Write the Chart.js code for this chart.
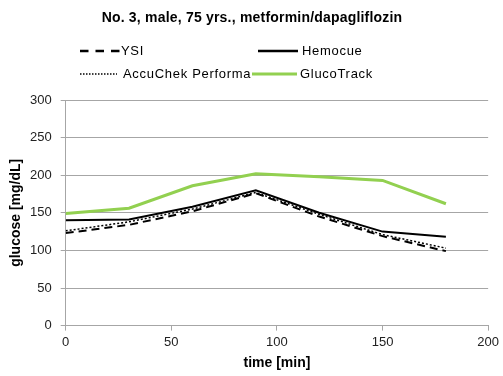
<!DOCTYPE html>
<html>
<head>
<meta charset="utf-8">
<script src="https://cdn.jsdelivr.net/npm/chart.js@4/dist/chart.umd.min.js"></script>
<style>
html,body{margin:0;padding:0;background:#fff;}
#wrap{width:503px;height:376px;position:relative;}
</style>
</head>
<body>
<div id="wrap"><canvas id="c" width="503" height="376"></canvas></div>
<script>
const titleText = "No. 3, male, 75 yrs., metformin/dapagliflozin";
const yTitle = "glucose [mg/dL]";
const xTitle = "time [min]";
const times = [0, 30, 60, 90, 120, 150, 180];
const ysi = [123, 134, 152, 176, 145, 119, 99];
const hemocue = [140, 141, 158, 180, 150, 125, 118];
const accuchek = [126, 138, 155, 177, 148, 121, 103];
const glucotrack = [149, 156, 186, 202, 198, 193, 162];
const seriesNames = ["YSI", "Hemocue", "AccuChek Performa", "GlucoTrack"];
const yTicks = [0, 50, 100, 150, 200, 250, 300];
const xTicks = [0, 50, 100, 150, 200];

const pts = (vals) => times.map((t, i) => ({x: t, y: vals[i]}));

const FONT = "'Liberation Sans', Arial, sans-serif";

const legendPlugin = {
  id: 'customLegend',
  afterDraw(chart) {
    const ctx = chart.ctx;
    ctx.save();
    // title
    ctx.font = "bold 14px " + FONT;
    ctx.fillStyle = "#000";
    ctx.textAlign = "center";
    ctx.textBaseline = "middle";
    try { ctx.letterSpacing = "0.2px"; } catch (e) {}
    ctx.fillText(titleText, 252, 18);
    // y axis title
    try { ctx.letterSpacing = "0px"; } catch (e) {}
    ctx.save();
    const ca = chart.chartArea;
    ctx.translate(16, (ca.top + ca.bottom) / 2);
    ctx.rotate(-Math.PI / 2);
    ctx.fillText(yTitle, 0, 0);
    ctx.restore();
    // legend
    const slots = [
      {x: 80, y: 51}, {x: 258, y: 51}, {x: 80, y: 74}, {x: 252, y: 74}
    ];
    const widths = [40, 40, 37, 45];
    const gaps = [1, 4, 6, 3];
    ctx.font = "13px " + FONT;
    ctx.textAlign = "left";
    try { ctx.letterSpacing = "0.7px"; } catch (e) {}
    chart.data.datasets.forEach((ds, i) => {
      const s = slots[i];
      ctx.beginPath();
      ctx.strokeStyle = ds.borderColor;
      ctx.lineWidth = ds.legendWidth;
      ctx.setLineDash(ds.legendDash || []);
      ctx.moveTo(s.x, s.y);
      ctx.lineTo(s.x + widths[i], s.y);
      ctx.stroke();
      ctx.setLineDash([]);
      ctx.fillStyle = "#000";
      ctx.fillText(ds.label, s.x + widths[i] + gaps[i], s.y);
    });
    ctx.restore();
  }
};

new Chart(document.getElementById('c'), {
  type: 'line',
  data: {
    datasets: [
      {label: seriesNames[0], data: pts(ysi), borderColor: '#000', borderWidth: 2, borderDash: [8, 5], legendWidth: 2.5, legendDash: [8.5, 7], pointRadius: 0, fill: false, tension: 0},
      {label: seriesNames[1], data: pts(hemocue), borderColor: '#000', borderWidth: 2, legendWidth: 2.5, pointRadius: 0, fill: false, tension: 0},
      {label: seriesNames[2], data: pts(accuchek), borderColor: '#000', borderWidth: 1.5, borderDash: [2, 2], legendWidth: 1.5, legendDash: [1.5, 1.5], pointRadius: 0, fill: false, tension: 0},
      {label: seriesNames[3], data: pts(glucotrack), borderColor: '#92d050', borderWidth: 3, legendWidth: 3, pointRadius: 0, fill: false, tension: 0}
    ]
  },
  options: {
    responsive: false,
    animation: false,
    devicePixelRatio: 1,
    layout: {padding: {top: 100, right: 12, left: 21, bottom: 4}},
    plugins: {legend: {display: false}, title: {display: false}, tooltip: {enabled: false}},
    scales: {
      x: {
        type: 'linear', min: 0, max: 200,
        afterBuildTicks: (ax) => { ax.ticks = xTicks.map(v => ({value: v})); },
        grid: {drawOnChartArea: false, drawTicks: true, tickLength: 5, color: '#a6a6a6'},
        border: {color: '#a6a6a6', width: 1},
        ticks: {color: '#222', font: {family: FONT, size: 13}, padding: 4, maxRotation: 0},
        title: {display: true, text: xTitle, color: '#000', font: {family: FONT, size: 14, weight: 'bold'}, padding: {top: 1, bottom: 0}}
      },
      y: {
        type: 'linear', min: 0, max: 300,
        afterBuildTicks: (ax) => { ax.ticks = yTicks.map(v => ({value: v})); },
        grid: {color: '#a6a6a6', tickLength: 5, drawTicks: true},
        border: {color: '#a6a6a6', width: 1},
        ticks: {color: '#222', font: {family: FONT, size: 13}, padding: 9},
        title: {display: false}
      }
    }
  },
  plugins: [legendPlugin]
});
</script>
</body>
</html>
